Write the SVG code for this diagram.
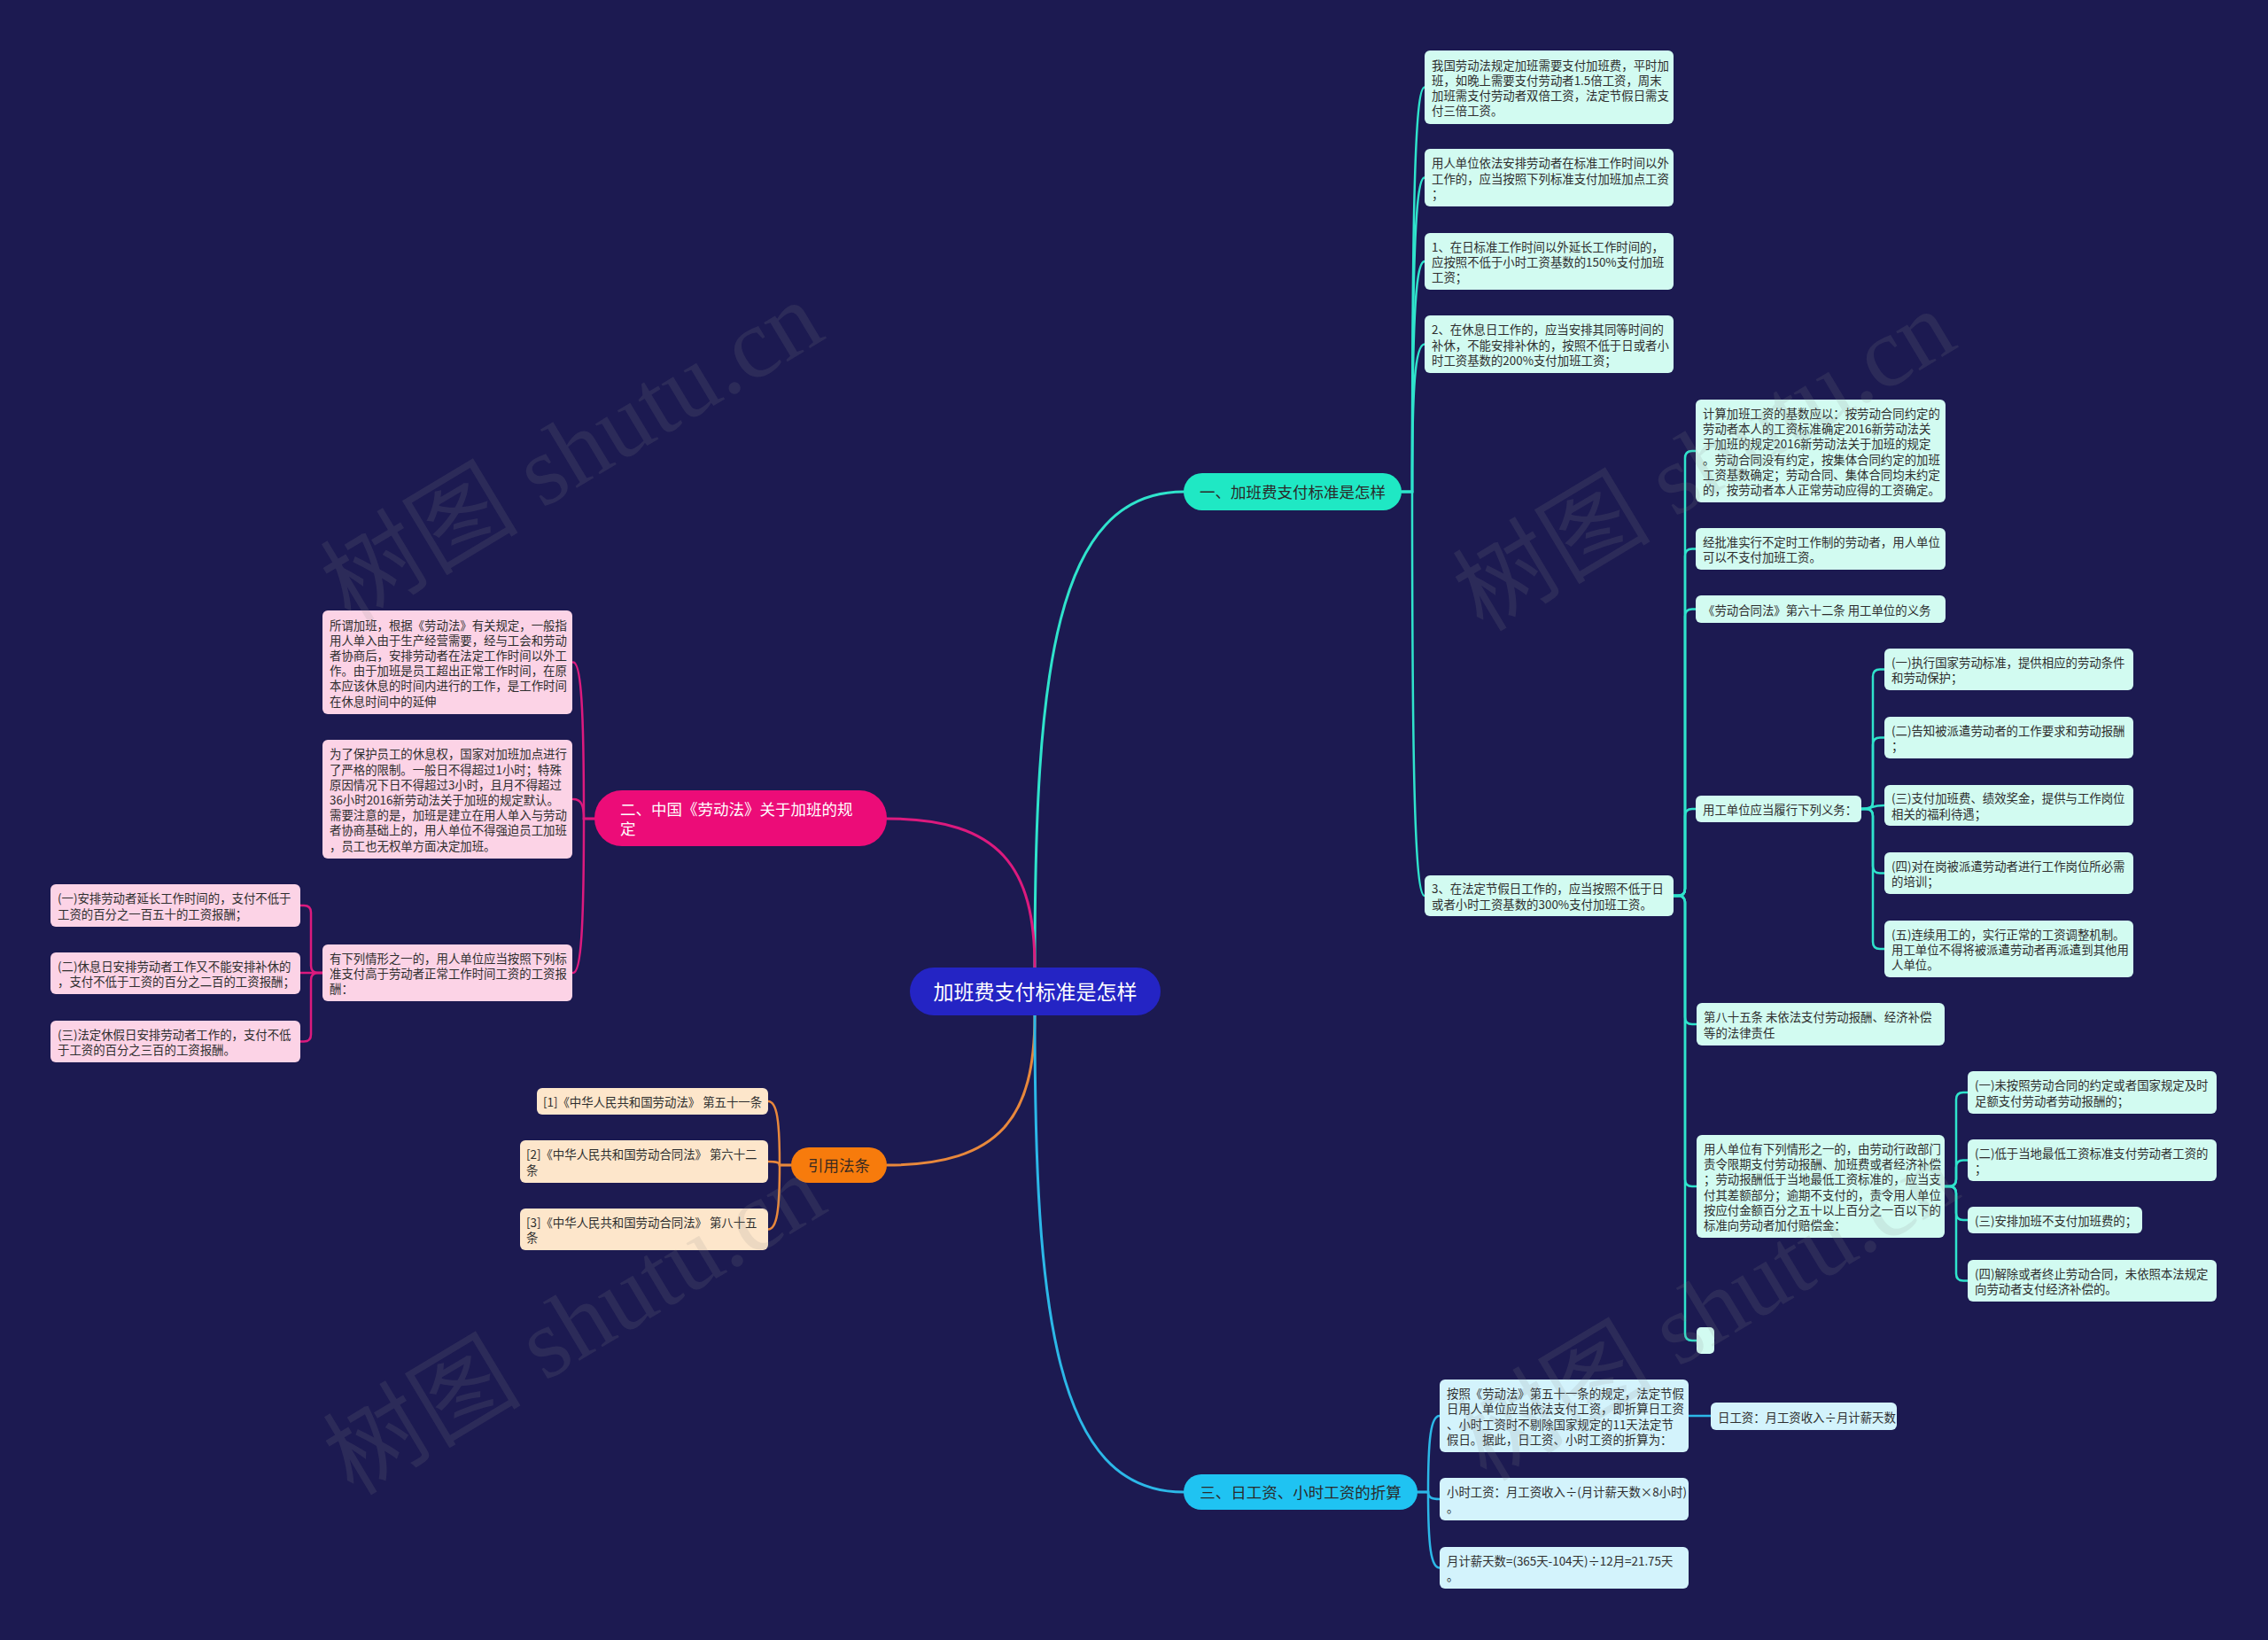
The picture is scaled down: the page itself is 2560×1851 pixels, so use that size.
<svg xmlns="http://www.w3.org/2000/svg" width="2560" height="1851" viewBox="0 0 2560 1851">
<defs>
<style>
.t{font-family:"Noto Sans CJK SC","Noto Sans",sans-serif;font-size:13.4px;fill:#2e2e2e}
.bt{font-family:"Noto Sans CJK SC","Noto Sans",sans-serif;font-size:17.5px}
.n1{fill:#d2fbf1}
.n2{fill:#fcd3e6}
.n3{fill:#fde6cb}
.n4{fill:#d3f3fc}
.c{fill:none;stroke-width:2.5;stroke-linecap:round}
.k1{stroke:#2fe3cc}
.k2{stroke:#dc1a7e}
.k3{stroke:#e8883c}
.k4{stroke:#2cb8e8}
.wm{font-family:"Liberation Serif","Noto Sans CJK SC",serif;font-size:112px;fill:#8a8a8a;fill-opacity:0.15}
</style>
</defs>
<rect x="0" y="0" width="2560" height="1851" fill="#1c1a51"/>

<g id="connectors">
<path class="c k1" style="stroke-width:3" d="M1168 1092 C1168 760 1190 555 1336 555"/>
<path class="c k2" style="stroke-width:3" d="M1001 924 C1130 924 1168 980 1168 1092"/>
<path class="c k3" style="stroke-width:3" d="M1001 1315 C1130 1315 1168 1260 1168 1146"/>
<path class="c k4" style="stroke-width:3" d="M1168 1146 C1168 1480 1190 1684 1336 1684"/>

<path class="c k1" d="M1582 555H1594C1594 235.5 1597 98.5 1608 98.5"/>
<path class="c k1" d="M1582 555H1594C1594 306.9 1597 200.5 1608 200.5"/>
<path class="c k1" d="M1582 555H1594C1594 373 1597 295 1608 295"/>
<path class="c k1" d="M1582 555H1594C1594 438.5 1597 388.5 1608 388.5"/>
<path class="c k1" d="M1582 555H1594C1594 874.2 1597 1011 1608 1011"/>

<path class="c k2" d="M671 924H659C659 800.5 656 747.5 647 747.5"/>
<path class="c k2" d="M671 924H659C659 908.6 656 902 647 902"/>
<path class="c k2" d="M671 924H659C659 1045.8 656 1098 647 1098"/>

<path class="c k3" d="M893 1315H880C880 1264.6 877 1243 867 1243"/>
<path class="c k3" d="M893 1315H880C880 1312.2 877 1311 867 1311"/>
<path class="c k3" d="M893 1315H880C880 1365.8 877 1387.5 867 1387.5"/>

<path class="c k4" d="M1600 1684H1612C1612 1623.8 1615 1598 1625 1598"/>
<path class="c k4" d="M1600 1684H1612C1612 1689.6 1615 1692 1625 1692"/>
<path class="c k4" d="M1600 1684H1612C1612 1743.9 1615 1769.5 1625 1769.5"/>
<path class="c k4" d="M1906 1598H1931"/>

<path class="c k1" d="M1889 1011H1894Q1902 1011 1902 1003V517Q1902 509 1910 509H1914"/>
<path class="c k1" d="M1889 1011H1894Q1902 1011 1902 1003V627.5Q1902 619.5 1910 619.5H1914"/>
<path class="c k1" d="M1889 1011H1894Q1902 1011 1902 1003V695.5Q1902 687.5 1910 687.5H1914"/>
<path class="c k1" d="M1889 1011H1894Q1902 1011 1902 1003V921Q1902 913 1910 913H1914"/>
<path class="c k1" d="M1889 1011H1894Q1902 1011 1902 1019V1148Q1902 1156 1910 1156H1915"/>
<path class="c k1" d="M1889 1011H1894Q1902 1011 1902 1019V1331Q1902 1339 1910 1339H1915"/>
<path class="c k1" d="M1889 1011H1894Q1902 1011 1902 1019V1505Q1902 1513 1910 1513H1915"/>

<path class="c k1" d="M2101 913H2106Q2114 913 2114 905V763.5Q2114 755.5 2122 755.5H2127"/>
<path class="c k1" d="M2101 913H2106Q2114 913 2114 905V840.5Q2114 832.5 2122 832.5H2127"/>
<path class="c k1" d="M2101 913C2112 913 2112 909 2127 909"/>
<path class="c k1" d="M2101 913H2106Q2114 913 2114 921V977.5Q2114 985.5 2122 985.5H2127"/>
<path class="c k1" d="M2101 913H2106Q2114 913 2114 921V1063Q2114 1071 2122 1071H2127"/>

<path class="c k1" d="M2195 1339H2200Q2208 1339 2208 1331V1241Q2208 1233 2216 1233H2221"/>
<path class="c k1" d="M2195 1339H2200Q2208 1339 2208 1331V1317.5Q2208 1309.5 2216 1309.5H2221"/>
<path class="c k1" d="M2195 1339H2200Q2208 1339 2208 1347V1369Q2208 1377 2216 1377H2221"/>
<path class="c k1" d="M2195 1339H2200Q2208 1339 2208 1347V1437.5Q2208 1445.5 2216 1445.5H2221"/>

<path class="c k2" d="M364 1098H359Q351 1098 351 1090V1030Q351 1022 343 1022H339"/>
<path class="c k2" d="M364 1098H339"/>
<path class="c k2" d="M364 1098H359Q351 1098 351 1106V1167.5Q351 1175.5 343 1175.5H339"/>
</g>

<g id="root">
<rect x="1027" y="1092" width="283" height="54" rx="27" fill="#2424c4"/>
<text class="bt" x="1168.5" y="1127.5" text-anchor="middle" style="font-size:23px;fill:#ffffff">加班费支付标准是怎样</text>
</g>

<g id="b1">
<rect x="1336" y="534" width="246" height="42" rx="21" fill="#1fe8c4"/>
<text class="bt" x="1459" y="561.5" text-anchor="middle" fill="#2a2a2a">一、加班费支付标准是怎样</text>
</g>
<g id="b2">
<rect x="671" y="892" width="330" height="63" rx="31" fill="#ec0c78"/>
<text class="bt" x="700" y="919.5" fill="#ffffff">二、中国《劳动法》关于加班的规</text>
<text class="bt" x="700" y="941.5" fill="#ffffff">定</text>
</g>
<g id="b3">
<rect x="893" y="1295" width="108" height="40" rx="20" fill="#f77b0c"/>
<text class="bt" x="947" y="1321.5" text-anchor="middle" fill="#3a2a20">引用法条</text>
</g>
<g id="b4">
<rect x="1336" y="1664" width="264" height="40" rx="20" fill="#1fc3f2"/>
<text class="bt" x="1468" y="1690.5" text-anchor="middle" fill="#2a2a2a">三、日工资、小时工资的折算</text>
</g>

<g id="c1">
<rect class="n1" x="1608" y="57" width="281" height="83" rx="6"/>
<text class="t" x="1616" y="78.7">我国劳动法规定加班需要支付加班费，平时加</text>
<text class="t" x="1616" y="95.9">班，如晚上需要支付劳动者1.5倍工资，周末</text>
<text class="t" x="1616" y="113.1">加班需支付劳动者双倍工资，法定节假日需支</text>
<text class="t" x="1616" y="130.3">付三倍工资。</text>
</g>
<g id="c2">
<rect class="n1" x="1608" y="168" width="281" height="65" rx="6"/>
<text class="t" x="1616" y="189.3">用人单位依法安排劳动者在标准工作时间以外</text>
<text class="t" x="1616" y="206.5">工作的，应当按照下列标准支付加班加点工资</text>
<text class="t" x="1616" y="223.7">；</text>
</g>
<g id="c3">
<rect class="n1" x="1608" y="263" width="281" height="64" rx="6"/>
<text class="t" x="1616" y="283.8">1、在日标准工作时间以外延长工作时间的，</text>
<text class="t" x="1616" y="301">应按照不低于小时工资基数的150%支付加班</text>
<text class="t" x="1616" y="318.2">工资；</text>
</g>
<g id="c4">
<rect class="n1" x="1608" y="356" width="281" height="65" rx="6"/>
<text class="t" x="1616" y="377.3">2、在休息日工作的，应当安排其同等时间的</text>
<text class="t" x="1616" y="394.5">补休，不能安排补休的，按照不低于日或者小</text>
<text class="t" x="1616" y="411.7">时工资基数的200%支付加班工资；</text>
</g>
<g id="c5">
<rect class="n1" x="1608" y="988" width="281" height="46" rx="6"/>
<text class="t" x="1616" y="1008.4">3、在法定节假日工作的，应当按照不低于日</text>
<text class="t" x="1616" y="1025.6">或者小时工资基数的300%支付加班工资。</text>
</g>

<g id="g1">
<rect class="n1" x="1914" y="451" width="282" height="116" rx="6"/>
<text class="t" x="1922" y="472">计算加班工资的基数应以：按劳动合同约定的</text>
<text class="t" x="1922" y="489.2">劳动者本人的工资标准确定2016新劳动法关</text>
<text class="t" x="1922" y="506.4">于加班的规定2016新劳动法关于加班的规定</text>
<text class="t" x="1922" y="523.6">。劳动合同没有约定，按集体合同约定的加班</text>
<text class="t" x="1922" y="540.8">工资基数确定；劳动合同、集体合同均未约定</text>
<text class="t" x="1922" y="558">的，按劳动者本人正常劳动应得的工资确定。</text>
</g>
<g id="g2">
<rect class="n1" x="1914" y="596" width="282" height="47" rx="6"/>
<text class="t" x="1922" y="616.9">经批准实行不定时工作制的劳动者，用人单位</text>
<text class="t" x="1922" y="634.1">可以不支付加班工资。</text>
</g>
<g id="g3">
<rect class="n1" x="1914" y="672" width="282" height="31" rx="6"/>
<text class="t" x="1922" y="693.5">《劳动合同法》第六十二条 用工单位的义务</text>
</g>
<g id="g4">
<rect class="n1" x="1914" y="898" width="187" height="30" rx="6"/>
<text class="t" x="1922" y="919">用工单位应当履行下列义务：</text>
</g>
<g id="o1">
<rect class="n1" x="2127" y="732" width="281" height="47" rx="6"/>
<text class="t" x="2135" y="752.9">(一)执行国家劳动标准，提供相应的劳动条件</text>
<text class="t" x="2135" y="770.1">和劳动保护；</text>
</g>
<g id="o2">
<rect class="n1" x="2127" y="809" width="281" height="47" rx="6"/>
<text class="t" x="2135" y="829.9">(二)告知被派遣劳动者的工作要求和劳动报酬</text>
<text class="t" x="2135" y="847.1">；</text>
</g>
<g id="o3">
<rect class="n1" x="2127" y="886" width="281" height="46" rx="6"/>
<text class="t" x="2135" y="906.4">(三)支付加班费、绩效奖金，提供与工作岗位</text>
<text class="t" x="2135" y="923.6">相关的福利待遇；</text>
</g>
<g id="o4">
<rect class="n1" x="2127" y="962" width="281" height="47" rx="6"/>
<text class="t" x="2135" y="982.9">(四)对在岗被派遣劳动者进行工作岗位所必需</text>
<text class="t" x="2135" y="1000.1">的培训；</text>
</g>
<g id="o5">
<rect class="n1" x="2127" y="1039" width="281" height="64" rx="6"/>
<text class="t" x="2135" y="1059.8">(五)连续用工的，实行正常的工资调整机制。</text>
<text class="t" x="2135" y="1077">用工单位不得将被派遣劳动者再派遣到其他用</text>
<text class="t" x="2135" y="1094.2">人单位。</text>
</g>
<g id="g5">
<rect class="n1" x="1915" y="1132" width="280" height="48" rx="6"/>
<text class="t" x="1923" y="1153.4">第八十五条 未依法支付劳动报酬、经济补偿</text>
<text class="t" x="1923" y="1170.6">等的法律责任</text>
</g>
<g id="g6">
<rect class="n1" x="1915" y="1281" width="280" height="116" rx="6"/>
<text class="t" x="1923" y="1302">用人单位有下列情形之一的，由劳动行政部门</text>
<text class="t" x="1923" y="1319.2">责令限期支付劳动报酬、加班费或者经济补偿</text>
<text class="t" x="1923" y="1336.4">；劳动报酬低于当地最低工资标准的，应当支</text>
<text class="t" x="1923" y="1353.6">付其差额部分；逾期不支付的，责令用人单位</text>
<text class="t" x="1923" y="1370.8">按应付金额百分之五十以上百分之一百以下的</text>
<text class="t" x="1923" y="1388">标准向劳动者加付赔偿金：</text>
</g>
<g id="g7">
<rect class="n1" x="1915" y="1498" width="20" height="30" rx="5"/>
</g>
<g id="p1">
<rect class="n1" x="2221" y="1209" width="281" height="48" rx="6"/>
<text class="t" x="2229" y="1230.4">(一)未按照劳动合同的约定或者国家规定及时</text>
<text class="t" x="2229" y="1247.6">足额支付劳动者劳动报酬的；</text>
</g>
<g id="p2">
<rect class="n1" x="2221" y="1286" width="281" height="47" rx="6"/>
<text class="t" x="2229" y="1306.9">(二)低于当地最低工资标准支付劳动者工资的</text>
<text class="t" x="2229" y="1324.1">；</text>
</g>
<g id="p3">
<rect class="n1" x="2221" y="1362" width="197" height="30" rx="6"/>
<text class="t" x="2229" y="1383">(三)安排加班不支付加班费的；</text>
</g>
<g id="p4">
<rect class="n1" x="2221" y="1422" width="281" height="47" rx="6"/>
<text class="t" x="2229" y="1442.9">(四)解除或者终止劳动合同，未依照本法规定</text>
<text class="t" x="2229" y="1460.1">向劳动者支付经济补偿的。</text>
</g>

<g id="h1">
<rect class="n4" x="1625" y="1557" width="281" height="82" rx="6"/>
<text class="t" x="1633" y="1578.2">按照《劳动法》第五十一条的规定，法定节假</text>
<text class="t" x="1633" y="1595.4">日用人单位应当依法支付工资，即折算日工资</text>
<text class="t" x="1633" y="1612.6">、小时工资时不剔除国家规定的11天法定节</text>
<text class="t" x="1633" y="1629.8">假日。据此，日工资、小时工资的折算为：</text>
</g>
<g id="h1c">
<rect class="n4" x="1931" y="1583" width="210" height="31" rx="6"/>
<text class="t" x="1939" y="1604.5">日工资：月工资收入÷月计薪天数</text>
</g>
<g id="h2">
<rect class="n4" x="1625" y="1668" width="281" height="48" rx="6"/>
<text class="t" x="1633" y="1689.4">小时工资：月工资收入÷(月计薪天数×8小时)</text>
<text class="t" x="1633" y="1706.6">。</text>
</g>
<g id="h3">
<rect class="n4" x="1625" y="1746" width="281" height="47" rx="6"/>
<text class="t" x="1633" y="1766.9">月计薪天数=(365天-104天)÷12月=21.75天</text>
<text class="t" x="1633" y="1784.1">。</text>
</g>

<g id="L1">
<rect class="n2" x="364" y="689" width="282" height="117" rx="6"/>
<text class="t" x="372" y="710.5">所谓加班，根据《劳动法》有关规定，一般指</text>
<text class="t" x="372" y="727.7">用人单入由于生产经营需要，经与工会和劳动</text>
<text class="t" x="372" y="744.9">者协商后，安排劳动者在法定工作时间以外工</text>
<text class="t" x="372" y="762.1">作。由于加班是员工超出正常工作时间，在原</text>
<text class="t" x="372" y="779.3">本应该休息的时间内进行的工作，是工作时间</text>
<text class="t" x="372" y="796.5">在休息时间中的延伸</text>
</g>
<g id="L2">
<rect class="n2" x="364" y="835" width="282" height="134" rx="6"/>
<text class="t" x="372" y="856.4">为了保护员工的休息权，国家对加班加点进行</text>
<text class="t" x="372" y="873.6">了严格的限制。一般日不得超过1小时；特殊</text>
<text class="t" x="372" y="890.8">原因情况下日不得超过3小时，且月不得超过</text>
<text class="t" x="372" y="908">36小时2016新劳动法关于加班的规定默认。</text>
<text class="t" x="372" y="925.2">需要注意的是，加班是建立在用人单入与劳动</text>
<text class="t" x="372" y="942.4">者协商基础上的，用人单位不得强迫员工加班</text>
<text class="t" x="372" y="959.6">，员工也无权单方面决定加班。</text>
</g>
<g id="L3">
<rect class="n2" x="364" y="1066" width="282" height="64" rx="6"/>
<text class="t" x="372" y="1086.8">有下列情形之一的，用人单位应当按照下列标</text>
<text class="t" x="372" y="1104">准支付高于劳动者正常工作时间工资的工资报</text>
<text class="t" x="372" y="1121.2">酬：</text>
</g>
<g id="M1">
<rect class="n2" x="57" y="998" width="282" height="48" rx="6"/>
<text class="t" x="65" y="1019.4">(一)安排劳动者延长工作时间的，支付不低于</text>
<text class="t" x="65" y="1036.6">工资的百分之一百五十的工资报酬；</text>
</g>
<g id="M2">
<rect class="n2" x="57" y="1075" width="282" height="47" rx="6"/>
<text class="t" x="65" y="1095.9">(二)休息日安排劳动者工作又不能安排补休的</text>
<text class="t" x="65" y="1113.1">，支付不低于工资的百分之二百的工资报酬；</text>
</g>
<g id="M3">
<rect class="n2" x="57" y="1152" width="282" height="47" rx="6"/>
<text class="t" x="65" y="1172.9">(三)法定休假日安排劳动者工作的，支付不低</text>
<text class="t" x="65" y="1190.1">于工资的百分之三百的工资报酬。</text>
</g>

<g id="r1">
<rect class="n3" x="606" y="1228" width="261" height="30" rx="6"/>
<text class="t" x="613" y="1249">[1]《中华人民共和国劳动法》 第五十一条</text>
</g>
<g id="r2">
<rect class="n3" x="587" y="1287" width="280" height="48" rx="6"/>
<text class="t" x="594" y="1308.4">[2]《中华人民共和国劳动合同法》 第六十二</text>
<text class="t" x="594" y="1325.6">条</text>
</g>
<g id="r3">
<rect class="n3" x="587" y="1364" width="280" height="47" rx="6"/>
<text class="t" x="594" y="1384.9">[3]《中华人民共和国劳动合同法》 第八十五</text>
<text class="t" x="594" y="1402.1">条</text>
</g>

<g id="watermarks">
<text class="wm" x="645" y="548" text-anchor="middle" transform="rotate(-31 645 509)">树图 shutu.cn</text>
<text class="wm" x="1923" y="558" text-anchor="middle" transform="rotate(-31 1923 519)">树图 shutu.cn</text>
<text class="wm" x="648" y="1533" text-anchor="middle" transform="rotate(-31 648 1494)">树图 shutu.cn</text>
<text class="wm" x="1927" y="1517" text-anchor="middle" transform="rotate(-31 1927 1478)">树图 shutu.cn</text>
</g>
</svg>
